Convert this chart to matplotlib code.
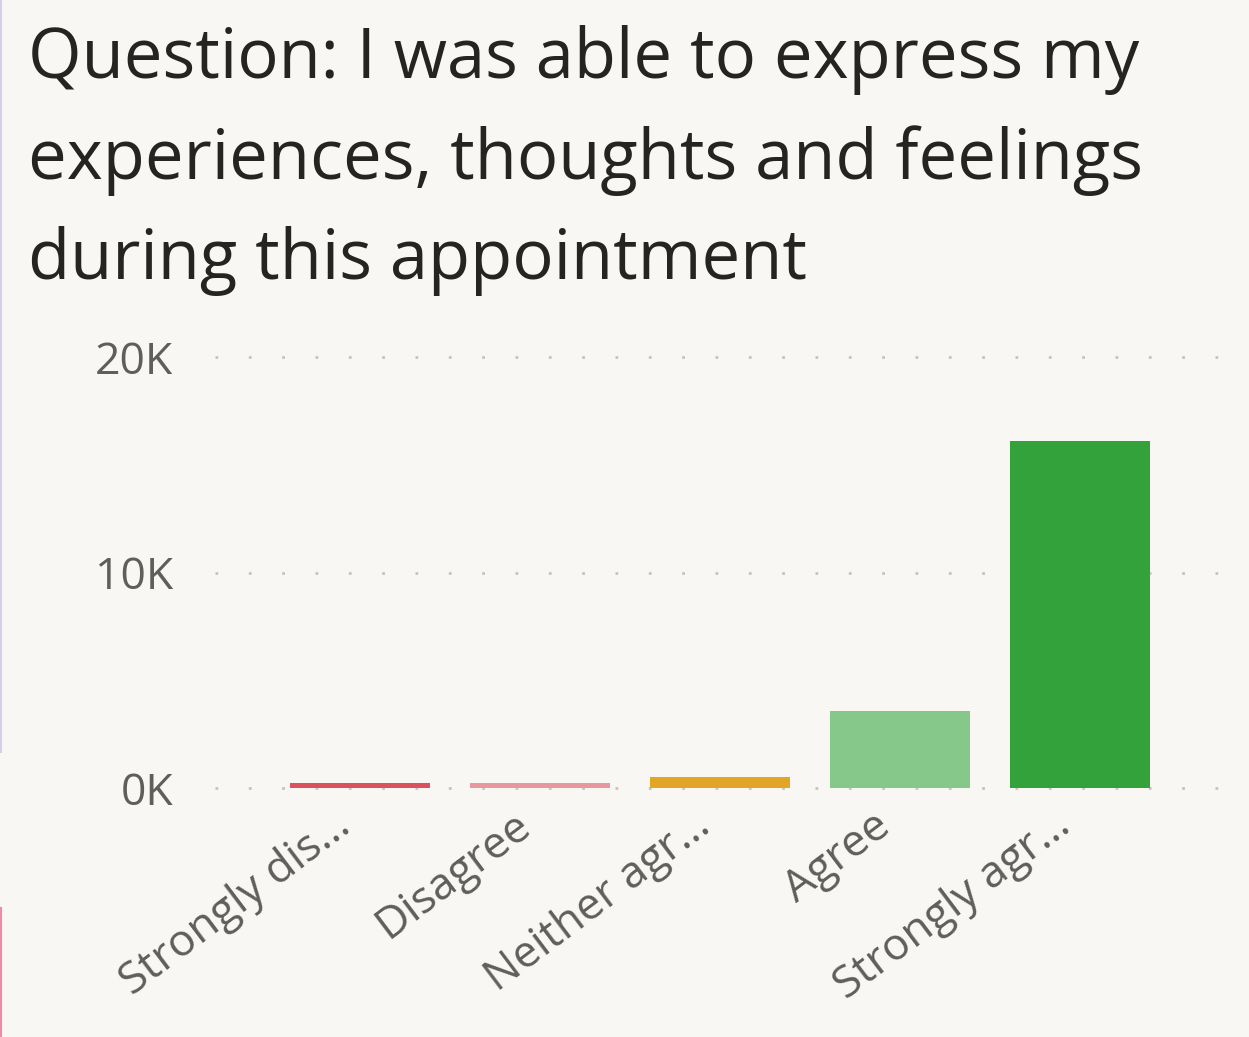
import matplotlib
matplotlib.use("Agg")
import matplotlib.pyplot as plt
import matplotlib.transforms as mtransforms
from matplotlib.lines import Line2D
from matplotlib.ticker import FuncFormatter

# Data
categories = ["Strongly dis…", "Disagree", "Neither agr…", "Agree", "Strongly agr…"]
counts = [230, 210, 520, 3570, 16100]
colors = ["#d9525e", "#e8979f", "#e2a526", "#85c88a", "#34a23a"]
yticks = [0, 10000, 20000]

title = "Question: I was able to express my\nexperiences, thoughts and feelings\nduring this appointment"

bg = "#f8f7f3"
grey = "#605e5c"

plt.rcParams["font.family"] = ["Open Sans", "DejaVu Sans"]

W, H = 1249, 1037
fig = plt.figure(figsize=(W / 100, H / 100), dpi=100, facecolor=bg)

# axes placed in pixel terms: x 215..1215, y 357..788
ax = fig.add_axes([215 / W, (H - 788) / H, 1000 / W, (788 - 357) / H])
ax.set_facecolor(bg)

x = list(range(len(categories)))
ax.bar(x, counts, width=0.78, color=colors, zorder=3)

ax.set_ylim(0, 20000)
ax.set_xlim(-0.805, 4.75)
ax.set_yticks(yticks)
ax.yaxis.set_major_formatter(FuncFormatter(lambda v, p: f"{int(v / 1000)}K"))
for t in yticks:
    ax.axhline(t, xmax=1.03, color="#c4c4c4", linewidth=2, linestyle=(0, (1, 11)),
               zorder=1, clip_on=False)

for s in ax.spines.values():
    s.set_visible(False)

ax.tick_params(axis="y", length=0, pad=30, labelsize=32, labelcolor=grey)
ax.tick_params(axis="x", length=0, pad=24, labelsize=32, labelcolor=grey)
ax.set_xticks(x)
ax.set_xticklabels(categories, rotation=37, ha="right", va="center",
                   rotation_mode="anchor")
offset = mtransforms.ScaledTranslation(-0.14, 0, fig.dpi_scale_trans)
for lbl in ax.get_xticklabels():
    lbl.set_transform(lbl.get_transform() + offset)

fig.text(28 / W, 1 - 25 / H, title, ha="left", va="top", fontsize=49.5,
         color="#252423", linespacing=1.56)

# thin frame remnants at the left edge
fig.add_artist(Line2D([0.001, 0.001], [1, 1 - 752 / H], color="#d8cdea", linewidth=1.5))
fig.add_artist(Line2D([0.001, 0.001], [1 - 908 / H, 0], color="#f08aa6", linewidth=1.5))

fig.savefig("out.png", dpi=100, facecolor=bg)
